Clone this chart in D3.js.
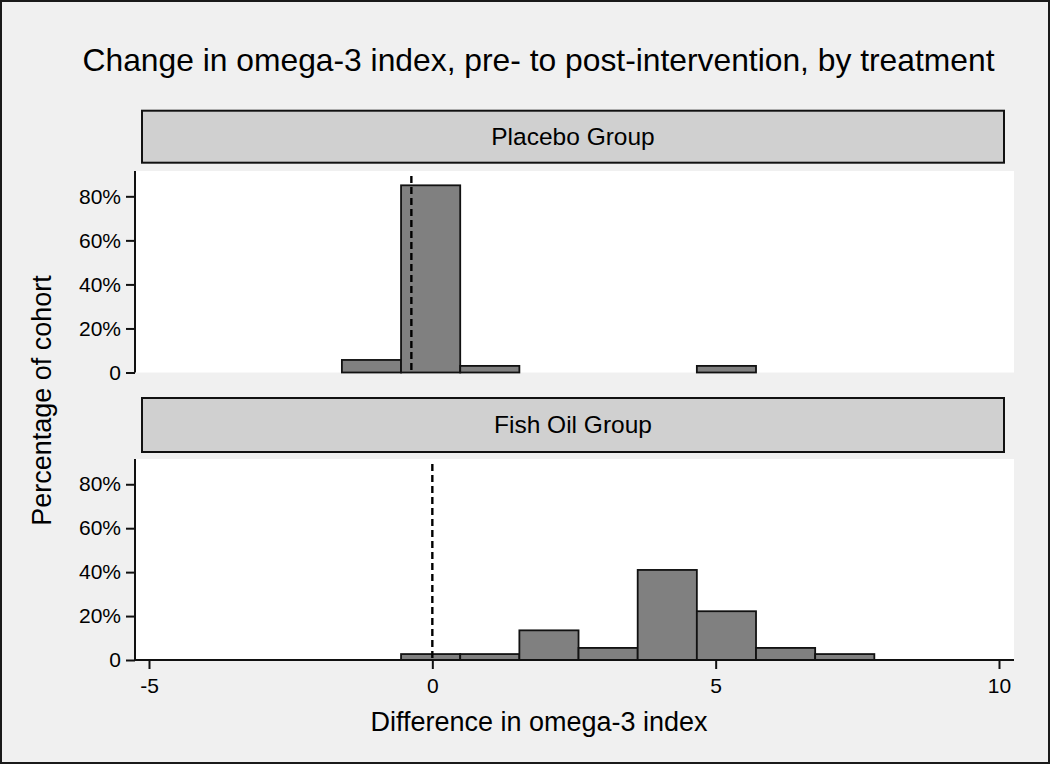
<!DOCTYPE html>
<html>
<head>
<meta charset="utf-8">
<script src="https://cdn.jsdelivr.net/npm/d3@7"></script>
<style>
  html, body { margin: 0; padding: 0; background: #f0f0f0; }
  svg { display: block; font-family: "Liberation Sans", Arial, sans-serif; }
</style>
</head>
<body>
<svg id="chart" width="1050" height="764"></svg>
<script>
// ---- data ----
const chartTitle = "Change in omega-3 index, pre- to post-intervention, by treatment";
const panelNames = ["Placebo Group", "Fish Oil Group"];
const binWidth = 1.044;
const placeboBinStarts = [-1.596, -0.552, 0.492, 4.668];
const placeboPct = [5.7, 85.0, 3.0, 3.0];
const fishBinStarts = [-0.552, 0.492, 1.536, 2.580, 3.624, 4.668, 5.712, 6.756];
const fishPct = [2.7, 2.7, 13.5, 5.5, 41.0, 22.2, 5.5, 2.7];
const refLines = [-0.37, 0.0];
const xTicks = [-5, 0, 5, 10];
const yTicks = [0, 20, 40, 60, 80];
const yTickLabels = ["0", "20%", "40%", "60%", "80%"];
const xTitle = "Difference in omega-3 index";
const yTitle = "Percentage of cohort";

// ---- layout ----
const svg = d3.select("#chart");
const W = 1050, H = 764;
const plotL = 135, plotR = 1014;
const panels = [
  { stripTop: 110.7, stripBot: 162.7, top: 171, bot: 372.5,
    starts: placeboBinStarts, pct: placeboPct, ref: refLines[0], name: panelNames[0], xaxis: false },
  { stripTop: 398, stripBot: 452, top: 459, bot: 660,
    starts: fishBinStarts, pct: fishPct, ref: refLines[1], name: panelNames[1], xaxis: true }
];
const x = d3.scaleLinear().domain([-5, 10]).range([149, 999]);
const font = "'Liberation Sans', Arial, sans-serif";
const ink = "#000";

svg.append("rect").attr("x", 1).attr("y", 1).attr("width", W - 2).attr("height", H - 2)
  .attr("fill", "#f0f0f0").attr("stroke", "#1a1a1a").attr("stroke-width", 2);

svg.append("text").attr("x", 538.5).attr("y", 70.5).attr("text-anchor", "middle")
  .attr("font-size", 31.8).attr("fill", ink).text(chartTitle);

panels.forEach(p => {
  const y = d3.scaleLinear().domain([0, 91.5]).range([p.bot, p.top]);

  // strip
  svg.append("rect").attr("x", 142).attr("y", p.stripTop)
    .attr("width", 1004 - 142).attr("height", p.stripBot - p.stripTop)
    .attr("fill", "#d0d0d0").attr("stroke", "#111").attr("stroke-width", 2);
  svg.append("text").attr("x", 573).attr("y", p.stripTop + 34.5)
    .attr("text-anchor", "middle").attr("font-size", 24.5).attr("fill", ink).text(p.name);

  // plot region
  svg.append("rect").attr("x", plotL).attr("y", p.top)
    .attr("width", plotR - plotL).attr("height", p.bot - p.top).attr("fill", "#ffffff");

  // bars
  const data = p.starts.map((s, i) => ({ s: s, v: p.pct[i] }));
  svg.append("g").selectAll("rect").data(data).join("rect")
    .attr("x", d => x(d.s))
    .attr("width", d => x(d.s + binWidth) - x(d.s))
    .attr("y", d => y(d.v))
    .attr("height", d => y(0) - y(d.v))
    .attr("fill", "#808080").attr("stroke", "#111").attr("stroke-width", 1.8);

  // reference line
  svg.append("line").attr("x1", x(p.ref)).attr("x2", x(p.ref))
    .attr("y1", y(89.2)).attr("y2", y(0))
    .attr("stroke", "#000").attr("stroke-width", 2.4).attr("stroke-dasharray", "7,4");

  // y axis
  const ya = svg.append("g").attr("transform", `translate(${plotL},0)`)
    .call(d3.axisLeft(y).tickValues(yTicks).tickFormat((d, i) => yTickLabels[i])
      .tickSize(9).tickPadding(5));
  ya.select(".domain").attr("d", `M0,${p.top}V${p.bot}`).attr("stroke", "#111").attr("stroke-width", 2);
  ya.selectAll(".tick line").attr("stroke", "#111").attr("stroke-width", 2);
  ya.selectAll(".tick text").attr("font-size", 21).attr("font-family", font).attr("fill", ink);

  if (p.xaxis) {
    const xa = svg.append("g").attr("transform", `translate(0,${p.bot})`)
      .call(d3.axisBottom(x).tickValues(xTicks).tickFormat(d3.format("d")).tickSize(9).tickPadding(9));
    xa.select(".domain").attr("d", `M${plotL},0H${plotR}`).attr("stroke", "#111").attr("stroke-width", 2);
    xa.selectAll(".tick line").attr("stroke", "#111").attr("stroke-width", 2);
    xa.selectAll(".tick text").attr("font-size", 21).attr("font-family", font).attr("fill", ink)
      .text(d => d < 0 ? "-" + Math.abs(d) : String(d));
  }
});

// axis titles
svg.append("text").attr("x", 539).attr("y", 730.5).attr("text-anchor", "middle")
  .attr("font-size", 27).attr("fill", ink).text(xTitle);
svg.append("text").attr("transform", "translate(51,400.5) rotate(-90)")
  .attr("text-anchor", "middle").attr("font-size", 27).attr("fill", ink).text(yTitle);
</script>
</body>
</html>
